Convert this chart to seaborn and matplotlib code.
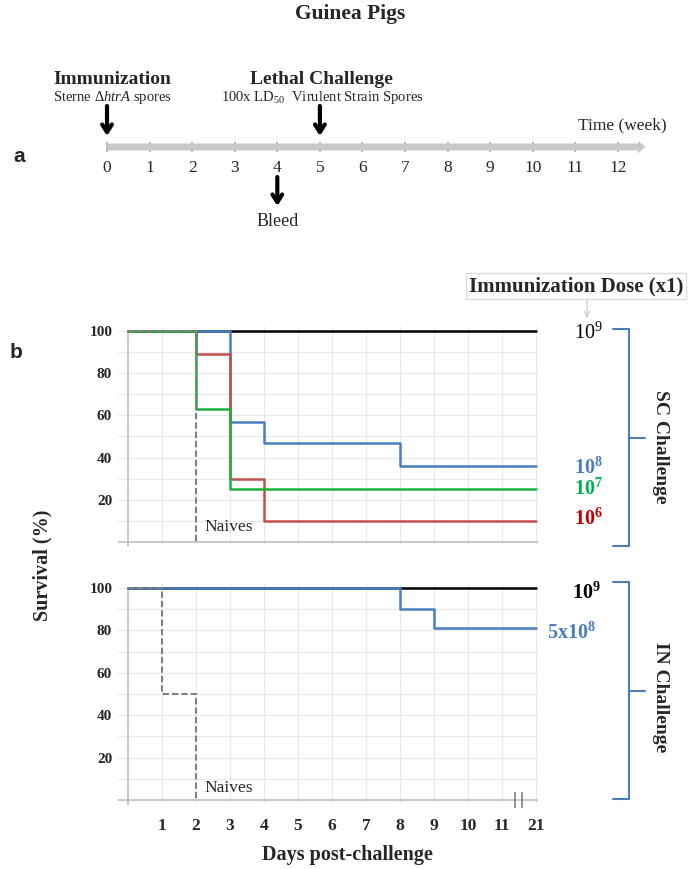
import matplotlib
matplotlib.use("Agg")
import matplotlib.pyplot as plt
import seaborn as sns

# ---- data ----
weeks = list(range(13))
immun_week = 0
challenge_week = 5
bleed_week = 4

# SC challenge (x position 12 stands for day 21)
sc_1e9_days = [0, 12]
sc_1e9_surv = [100, 100]
sc_1e8_days = [0, 3, 4, 8, 12]
sc_1e8_surv = [100, 57, 47, 36, 36]
sc_1e7_days = [0, 2, 3, 12]
sc_1e7_surv = [100, 63, 25, 25]
sc_1e6_days = [0, 2, 3, 4, 12]
sc_1e6_surv = [100, 89, 30, 10, 10]
sc_naive_days = [0, 2]
sc_naive_surv = [100, 0]

# IN challenge
in_1e9_days = [0, 12]
in_1e9_surv = [100, 100]
in_5e8_days = [0, 8, 9, 12]
in_5e8_surv = [100, 90, 81, 81]
in_naive_days = [0, 1, 2]
in_naive_surv = [100, 50, 0]

day_pos = list(range(1, 13))
day_labels = ['1', '2', '3', '4', '5', '6', '7', '8', '9', '10', '11', '21']
surv_ticks = [20, 40, 60, 80, 100]

blue = '#4a7ebb'
red = '#c0504d'
green = '#1db040'
grey = '#808080'

sns.set_style("white")
plt.rcParams['font.family'] = ['Liberation Serif', 'DejaVu Serif']
plt.rcParams['mathtext.fontset'] = 'custom'
plt.rcParams['mathtext.rm'] = 'Liberation Serif'
plt.rcParams['mathtext.it'] = 'Liberation Serif:italic'
plt.rcParams['mathtext.bf'] = 'Liberation Serif:bold'

W, H = 700, 869
fig = plt.figure(figsize=(7, 8.69), dpi=100)


def px_axes(x0, y0, x1, y1):
    # axes from pixel box (top-left origin)
    return fig.add_axes([x0 / W, 1 - y1 / H, (x1 - x0) / W, (y1 - y0) / H])


# ---- panel a: timeline ----
ax_a = px_axes(0, 0, 700, 260)
wk = 42.58
ax_a.set_xlim(-107 / wk, (700 - 107) / wk)
ax_a.set_ylim(260, 0)
ax_a.axis('off')

ax_a.annotate("", xy=(12.65, 147), xytext=(0, 147),
              arrowprops=dict(arrowstyle='simple,head_length=0.55,head_width=0.9,tail_width=0.5',
                              color='#c8c8c8', shrinkA=0, shrinkB=0, lw=0))
sns.scatterplot(x=weeks, y=[147] * len(weeks), ax=ax_a, marker='|', s=60,
                color='#a8a8a8', linewidth=1.2, legend=False)
for w in weeks:
    ax_a.text(w, 168, str(w), ha='center', va='center', fontsize=12.5)

arrow_kw = dict(arrowstyle='->,head_length=0.55,head_width=0.35', lw=3, color='black',
                shrinkA=0, shrinkB=0)
ax_a.annotate("", xy=(immun_week, 136), xytext=(immun_week, 106), arrowprops=arrow_kw)
ax_a.annotate("", xy=(challenge_week, 136), xytext=(challenge_week, 106), arrowprops=arrow_kw)
ax_a.annotate("", xy=(bleed_week, 206), xytext=(bleed_week, 177), arrowprops=arrow_kw)

ax_a.text(immun_week + 0.12, 79, "Immunization", ha='center', va='center', fontsize=14, fontweight='bold')
ax_a.text(immun_week + 0.12, 97, r"Sterne $\mathit{\Delta htrA}$ spores", ha='center', va='center', fontsize=10.5)
ax_a.text(challenge_week + 0.03, 79, "Lethal Challenge", ha='center', va='center', fontsize=14, fontweight='bold')
ax_a.text(challenge_week + 0.05, 97, r"100x LD$_{50}$  Virulent Strain Spores", ha='center', va='center', fontsize=10.5)
ax_a.text(bleed_week, 221, "Bleed", ha='center', va='center', fontsize=13)
ax_a.text(12.1, 125, "Time (week)", ha='center', va='center', fontsize=12.5)

# ---- panel b: survival curves ----
x_lo, x_hi = -0.3, 12.05
dx = 34.0
left_px = 128 + x_lo * dx
right_px = 128 + x_hi * dx


def survival_axes(zero_px, scale):
    ax = px_axes(left_px, zero_px - 102 * scale, right_px, zero_px + 1.5 * scale)
    ax.set_xlim(x_lo, x_hi)
    ax.set_ylim(-1.5, 102)
    for s in ax.spines.values():
        s.set_visible(False)
    ax.set_xticks(day_pos)
    ax.set_yticks(surv_ticks)
    ax.set_yticks([10, 30, 50, 70, 90], minor=True)
    ax.grid(True, which='both', color='#e8e8e8', lw=0.8)
    ax.set_axisbelow(True)
    ax.tick_params(axis='both', which='both', length=0)
    ax.tick_params(axis='y', pad=4)
    ax.set_yticklabels(surv_ticks, fontsize=11, fontweight='bold')
    ax.axhline(0, color='#bfbfbf', lw=1.2, zorder=1)
    ax.plot([0, 0], [-2, 100], color='#bfbfbf', lw=1.2, zorder=1, clip_on=False)
    ax.set_xlabel("")
    ax.set_ylabel("")
    return ax


ax_sc = survival_axes(542, 2.11)
ax_in = survival_axes(800, 2.12)

step = dict(drawstyle='steps-post', estimator=None, sort=False, lw=1.8)
sns.lineplot(x=sc_1e9_days, y=sc_1e9_surv, ax=ax_sc, color='black', **step)
sns.lineplot(x=sc_1e8_days, y=sc_1e8_surv, ax=ax_sc, color=blue, **step)
sns.lineplot(x=sc_1e6_days, y=sc_1e6_surv, ax=ax_sc, color=red, **step)
sns.lineplot(x=sc_1e7_days, y=sc_1e7_surv, ax=ax_sc, color=green, **step)
sns.lineplot(x=sc_naive_days, y=sc_naive_surv, ax=ax_sc, color=grey,
             linestyle=(0, (3, 1.5)), drawstyle='steps-post', estimator=None, sort=False, lw=1.5)

sns.lineplot(x=in_1e9_days, y=in_1e9_surv, ax=ax_in, color='black', **step)
sns.lineplot(x=in_5e8_days, y=in_5e8_surv, ax=ax_in, color=blue, **step)
sns.lineplot(x=in_naive_days, y=in_naive_surv, ax=ax_in, color=grey,
             linestyle=(0, (3, 1.5)), drawstyle='steps-post', estimator=None, sort=False, lw=1.5)

ax_sc.set_xticklabels([])
ax_in.set_xticklabels(day_labels, fontsize=12.5, fontweight='bold')
ax_in.tick_params(axis='x', pad=11)
ax_sc.set_xlabel("")
ax_sc.set_ylabel("")
ax_in.set_xlabel("")
ax_in.set_ylabel("")

ax_sc.text(2.25, 7, "Naives", ha='left', va='center', fontsize=12.5)
ax_in.text(2.25, 5.7, "Naives", ha='left', va='center', fontsize=12.5)

# axis break marks at day 11 -> 21
ax_in.plot([11.38, 11.58], [0, 0], ls='none', marker='|', ms=11, mew=1.2,
           color='#808080', clip_on=False)

# ---- overlay in pixel coordinates ----
ov = fig.add_axes([0, 0, 1, 1])
ov.set_xlim(0, W)
ov.set_ylim(H, 0)
ov.axis('off')

ov.text(350, 14, "Guinea Pigs", ha='center', va='center', fontsize=15.5, fontweight='bold')
ov.text(19, 156, "a", ha='center', va='center', fontsize=15, fontweight='bold', family='Liberation Sans')
ov.text(16, 352, "b", ha='center', va='center', fontsize=15, fontweight='bold', family='Liberation Sans')

ov.text(347, 855, "Days post-challenge", ha='center', va='center', fontsize=14.5, fontweight='bold')
ov.text(42, 565, "Survival (%)", ha='center', va='center', rotation=90, fontsize=14.5, fontweight='bold')

ov.text(576, 286, "Immunization Dose (x1)", ha='center', va='center', fontsize=15, fontweight='bold',
        bbox=dict(boxstyle='square,pad=0.15', fc='white', ec='#dcdcdc', lw=1))
ov.annotate("", xy=(587, 318), xytext=(587, 299),
            arrowprops=dict(arrowstyle='->', color='#c8c8c8', lw=0.8, shrinkA=0, shrinkB=0))

ov.text(588, 333, r"$\mathrm{10^{9}}$", ha='center', va='center', fontsize=14.5, color='black')
ov.text(588, 468, r"$\mathbf{10^{8}}$", ha='center', va='center', fontsize=14.5, color=blue)
ov.text(588, 489, r"$\mathbf{10^{7}}$", ha='center', va='center', fontsize=14.5, color='#00b050')
ov.text(588, 519, r"$\mathbf{10^{6}}$", ha='center', va='center', fontsize=14.5, color='#c00000')
ov.text(586, 593, r"$\mathbf{10^{9}}$", ha='center', va='center', fontsize=14.5, color='black')
ov.text(572, 633, r"$\mathbf{5x10^{8}}$", ha='center', va='center', fontsize=14.5, color=blue)


def bracket(y0, y1):
    ym = (y0 + y1) / 2
    ov.plot([613, 629, 629, 613], [y0, y0, y1, y1], color=blue, lw=1.5)
    ov.plot([629, 645], [ym, ym], color=blue, lw=1.5)


bracket(329, 546)
bracket(582, 799)
ov.text(661, 447, "SC Challenge", ha='center', va='center', rotation=-90, fontsize=14, fontweight='bold')
ov.text(661, 697, "IN Challenge", ha='center', va='center', rotation=-90, fontsize=14, fontweight='bold')

fig.savefig("out.png", dpi=100)
